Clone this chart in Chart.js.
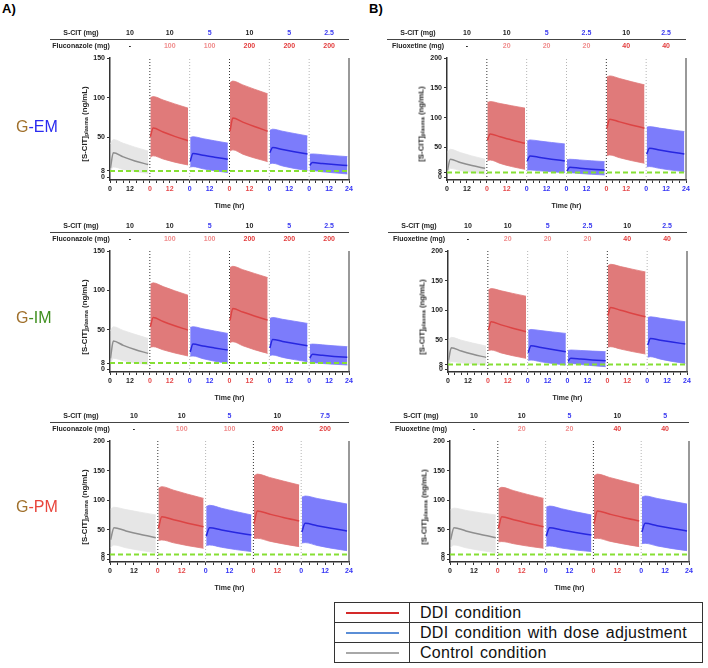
<!DOCTYPE html>
<html><head><meta charset="utf-8">
<script src="https://cdn.jsdelivr.net/npm/chart.js@4.4.1/dist/chart.umd.min.js"></script>
<style>
body{margin:0;width:708px;height:668px;background:#fff;position:relative;overflow:hidden;font-family:Arial,"Liberation Sans",Helvetica,sans-serif;}
canvas{position:absolute;}
.abs{position:absolute;white-space:nowrap;}
.ytitle{position:absolute;white-space:nowrap;font-weight:bold;font-size:7.8px;color:#222;transform:translate(-50%,-50%) rotate(-90deg);}
.ytitle sub{font-size:5.5px;vertical-align:-1px;}
.panel-lab{position:absolute;font-size:16px;transform:translateY(-50%);white-space:nowrap;}
.legend{position:absolute;left:334px;top:602px;border-collapse:collapse;width:369px;}
.legend td{border:1.5px solid #333;height:19px;padding:0;font-size:16px;color:#111;letter-spacing:0.3px;word-spacing:1.5px;}
.legend td.sw{width:74px;text-align:center;}
.legend td.tx{padding-left:10px;}
.legend .ln{display:inline-block;width:53px;height:2px;vertical-align:middle;}
</style></head><body>
<div class="abs" style="left:2px;top:1px;font-weight:bold;font-size:13px;">A)</div>
<div class="abs" style="left:369px;top:1px;font-weight:bold;font-size:13px;">B)</div>
<table class="legend">
<tr><td class="sw"><span class="ln" style="background:#d42a2a"></span></td><td class="tx">DDI condition</td></tr>
<tr><td class="sw"><span class="ln" style="background:#5b8ed6"></span></td><td class="tx">DDI condition with dose adjustment</td></tr>
<tr><td class="sw"><span class="ln" style="background:#a8a8a8"></span></td><td class="tx">Control condition</td></tr>
</table>
<script>
// ---------- DATA ----------
const TIMES = [0.3, 2, 8, 15, 23];          // hours within each 24-h dosing segment
const THRESHOLD = 8;                          // green dashed reference (ng/mL)
const SEG_HOURS = 24;
const yTicks150 = [0, 8, 50, 100, 150];
const yTicks200 = [0, 8, 50, 100, 150, 200];

// A) G-EM, fluconazole
const emA_cond  = ['control','ddi','adj','ddi','adj','adj'];
const emA_scit  = ['10','10','5','10','5','2.5'];
const emA_inhib = ['-','100','100','200','200','200'];
const emA_mean  = [[12,31,25.7,20.6,16],[51,62,56.9,51.5,46],[20,30,27.7,25.3,22.7],[58,74.5,69.4,63.9,58],[31,37.4,34.9,32.2,29.4],[15,18.5,17.3,16,14.7]];
const emA_upper = [[42,47.5,42.8,37.9,33],[100,101.5,97.2,92.3,87],[50,51,48.6,45.9,43],[119,121,116.2,110.8,105],[59,60.5,57.9,55.1,52],[29,29.4,28.4,27.2,26]];
const emA_lower = [[8,13,9.9,7.2,5],[25,27,23,19,15.5],[13,13.4,10.7,8.2,6],[33,34.5,29.1,24.3,19.7],[17,17.6,14.2,11.1,8.4],[8,8.4,6.9,5.6,4.2]];

// B) G-EM, fluoxetine
const emB_cond  = ['control','ddi','adj','adj','ddi','adj'];
const emB_scit  = ['10','10','5','2.5','10','2.5'];
const emB_inhib = ['-','20','20','20','40','40'];
const emB_mean  = [[12,30.3,24.8,19.7,15.1],[62,72.8,67.9,62.5,57],[27,35.9,33.3,30.4,27.5],[11,16.8,15.2,13.7,12.3],[82,97.5,92.9,87.8,82.4],[39,48.7,45.8,42.6,39.2]];
const emB_upper = [[42,47,41.5,35.8,30.3],[125,127,123.7,120,116],[61,62.7,60.7,58.4,56],[29.5,30.3,29.1,27.7,26.3],[168,170,165.6,160.4,155],[84,85,82.5,79.7,76.7]];
const emB_lower = [[8,15,11.3,8.1,5.6],[28,29,23.3,18,13.4],[12,12.3,10.8,9.3,7.8],[7.5,7.8,6.4,5.1,4],[36.5,37.5,32.8,28.1,23.5],[17.5,18,15,12.1,9.5]];

// A) G-IM, fluconazole
const imA_cond  = ['control','ddi','adj','ddi','adj','adj'];
const imA_scit  = ['10','10','5','10','5','2.5'];
const imA_inhib = ['-','100','100','200','200','200'];
const imA_mean  = [[14,35.8,30.4,25.1,20.2],[54,65.7,60.6,55.3,49.7],[22,32,29.6,27.1,24.4],[62,77.1,72.6,67.7,62.4],[27,37.9,35.4,32.7,29.9],[14,19,17.7,16.4,15.2]];
const imA_upper = [[49,54,49.2,44.3,39.2],[108,109.6,104.9,99.6,94],[53,54,51.4,48.6,45.5],[129,130.6,126.3,121.6,116.3],[64.5,65.7,63.4,61,58.2],[31.5,32,31,29.8,28.7]];
const imA_lower = [[8,14,11,8.3,6],[28,28.7,24.7,20.7,16.9],[16.5,16.9,13.5,10.3,7.6],[34,35,29.9,24.9,20.2],[17.5,18.1,15.1,12.3,9.7],[8.2,8.4,7.4,6.4,5.5]];

// B) G-IM, fluoxetine
const imB_cond  = ['control','ddi','adj','adj','ddi','adj'];
const imB_scit  = ['10','10','5','2.5','10','2.5'];
const imB_inhib = ['-','20','20','20','40','40'];
const imB_mean  = [[15,36.5,30.8,25.3,20.2],[66,80.3,75.1,69.5,63.5],[28,39.9,36.7,33.3,29.8],[13.5,18.5,17.3,15.9,14.6],[91,104.5,99.7,94.5,88.8],[41,52.2,49.3,46.1,42.7]];
const imB_upper = [[49,54,49.2,44.3,39.3],[134,136.5,132.7,128.3,123.6],[66,67.4,65.4,63.2,60.7],[32,32.6,31.8,30.8,29.8],[175,177.5,173.7,169.3,164.6],[87.5,88.8,86.3,83.5,80.3]];
const imB_lower = [[8,13,11,9.1,7.3],[32,32.6,27.7,23,18.5],[15,15.7,12.6,9.8,7.3],[9.5,10,8.1,6.2,4.5],[37.5,38.2,34.2,30,25.8],[20.5,21.3,17.2,13.3,10]];

// A) G-PM, fluconazole
const pmA_cond  = ['control','ddi','adj','ddi','adj'];
const pmA_scit  = ['10','10','5','10','7.5'];
const pmA_inhib = ['-','100','100','200','200'];
const pmA_mean  = [[33,53.5,48,42.3,36.6],[52,72,66.7,61.1,55.2],[39,53.5,49.6,45.4,41],[60,81.7,76.5,70.7,64.8],[46,60.8,56.8,52.5,47.9]];
const pmA_upper = [[85,88,84,79.7,75],[120,122.8,116.8,110.1,103],[89,91.3,86.3,80.8,75],[141,144,138.5,132.3,125.6],[105,107,102.9,98.4,93.5]];
const pmA_lower = [[20,24.2,19.5,15.1,11.3],[32,32.7,27.8,23.1,18.6],[23.5,24.2,20.3,16.5,13],[35,35.5,30.7,26,21.4],[27.5,28.2,23.4,18.8,14.6]];

// B) G-PM, fluoxetine
const pmB_cond  = ['control','ddi','adj','ddi','adj'];
const pmB_scit  = ['10','10','5','10','5'];
const pmB_inhib = ['-','20','20','40','40'];
const pmB_mean  = [[33,53.5,48,42.3,36.6],[52,72,66.7,61.1,55.2],[39,53.5,49.6,45.4,41],[60,81.7,76.5,70.7,64.8],[46,60.8,56.8,52.5,47.9]];
const pmB_upper = [[84,86.5,82.7,78.8,75],[119,121.7,116,109.6,103],[88,90,85.5,80.3,75],[141,144,138.5,132.3,125.6],[105,107,102.9,98.4,93.5]];
const pmB_lower = [[20,24.2,19.5,15.1,11.3],[29.5,30,26.3,22.3,18.6],[22,22.5,19,15.8,13],[35,35.5,30.7,26,21.4],[26.5,27,22.6,18.4,14.6]];

// ---------- STYLE / LAYOUT ----------
Chart.defaults.font.family = 'Arial, "Liberation Sans", Helvetica, sans-serif';
const STY = {
  control:{fill:'#e6e6e6', line:'#8e8e8e', tick:'#222'},
  ddi:    {fill:'#e07a7a', line:'#dc4444', tick:'#e5484a'},
  adj:    {fill:'#7c7cfb', line:'#2727e0', tick:'#3434f5'}
};
const HEAD_BLUE = '#3a3af0', HEAD_RED = '#e23c3c', HEAD_PINK = '#f08c8c';

const panels = [
  {cond:emA_cond, scit:emA_scit, inhib:emA_inhib, mean:emA_mean, upper:emA_upper, lower:emA_lower, yTicks:yTicks150, inhibName:'Fluconazole (mg)', box:{l:110,r:349,t:58,b:180}, yMin:-3.4},
  {cond:emB_cond, scit:emB_scit, inhib:emB_inhib, mean:emB_mean, upper:emB_upper, lower:emB_lower, yTicks:yTicks200, inhibName:'Fluoxetine (mg)',  box:{l:447,r:686,t:58,b:180}, yMin:-4.5},
  {cond:imA_cond, scit:imA_scit, inhib:imA_inhib, mean:imA_mean, upper:imA_upper, lower:imA_lower, yTicks:yTicks150, inhibName:'Fluconazole (mg)', box:{l:110,r:349,t:250.7,b:372}, yMin:-3.4},
  {cond:imB_cond, scit:imB_scit, inhib:imB_inhib, mean:imB_mean, upper:imB_upper, lower:imB_lower, yTicks:yTicks200, inhibName:'Fluoxetine (mg)',  box:{l:448,r:687,t:250.7,b:372}, yMin:-4.55},
  {cond:pmA_cond, scit:pmA_scit, inhib:pmA_inhib, mean:pmA_mean, upper:pmA_upper, lower:pmA_lower, yTicks:yTicks200, inhibName:'Fluconazole (mg)', box:{l:110,r:349,t:441,b:562}, yMin:-4.56},
  {cond:pmB_cond, scit:pmB_scit, inhib:pmB_inhib, mean:pmB_mean, upper:pmB_upper, lower:pmB_lower, yTicks:yTicks200, inhibName:'Fluoxetine (mg)',  box:{l:450,r:689,t:441,b:562}, yMin:-4.56}
];
const rowLabels = [
  {y:126.7, parts:[['G','#a0702c'],['-','#2a2af0'],['EM','#2a2af0']]},
  {y:318.3, parts:[['G','#a0702c'],['-','#3f8f1f'],['IM','#3f8f1f']]},
  {y:506.7, parts:[['G','#a0702c'],['-','#e8453c'],['PM','#e8453c']]}
];

const headerPlugin = {
  id:'header',
  afterDraw(chart, args, o) {
    const {ctx, chartArea:a, scales:{x}} = chart;
    ctx.save();
    ctx.font = 'bold 7px Arial, "Liberation Sans", sans-serif';
    ctx.textAlign = 'center'; ctx.textBaseline = 'middle';
    ctx.fillStyle = '#222';
    ctx.fillText('S-CIT (mg)', a.left - 29, a.top - 25);
    ctx.fillText(o.inhibName, a.left - 29, a.top - 11.5);
    ctx.strokeStyle = '#444'; ctx.lineWidth = 1;
    ctx.beginPath(); ctx.moveTo(a.left - 60, a.top - 18.5); ctx.lineTo(a.right, a.top - 18.5); ctx.stroke();
    const maxDose = Math.max(...o.inhib.filter(d => d !== '-').map(Number));
    o.scit.forEach((s, i) => {
      const cx = x.getPixelForValue(i * SEG_HOURS + SEG_HOURS / 2);
      ctx.fillStyle = o.cond[i] === 'adj' ? HEAD_BLUE : '#222';
      ctx.fillText(s, cx, a.top - 25);
      const d = o.inhib[i];
      ctx.fillStyle = d === '-' ? '#222' : (Number(d) === maxDose ? HEAD_RED : HEAD_PINK);
      ctx.fillText(d, cx, a.top - 11.5);
    });
    ctx.strokeStyle = '#555'; ctx.lineWidth = 1.2;
    ctx.beginPath(); ctx.moveTo(a.right, a.top); ctx.lineTo(a.right, a.bottom); ctx.stroke();
    ctx.restore();
  }
};

const padL = 62, padT = 33, padR = 8, padB = 32;

panels.forEach(p => {
  const nSeg = p.cond.length;
  const xMax = nSeg * SEG_HOURS;
  const yMax = p.yTicks[p.yTicks.length - 1];
  const w = Math.round(p.box.r - p.box.l + padL + padR);
  const h = Math.round(p.box.b - p.box.t + padT + padB);
  const c = document.createElement('canvas');
  c.width = w; c.height = h;
  c.style.left = (p.box.l - padL) + 'px'; c.style.top = (p.box.t - padT) + 'px';
  c.style.width = w + 'px'; c.style.height = h + 'px';
  document.body.appendChild(c);

  const ds = [];
  ds.push({data:[{x:0,y:THRESHOLD},{x:xMax,y:THRESHOLD}], borderColor:'#86df34', borderWidth:2, borderDash:[5,3], pointRadius:0, order:0});
  for (let i = 0; i < nSeg; i++) {
    const st = STY[p.cond[i]];
    const off = i * SEG_HOURS;
    const lo = TIMES.map((t, k) => ({x: off + t, y: p.lower[i][k]}));
    const up = TIMES.map((t, k) => ({x: off + t, y: p.upper[i][k]}));
    const mn = TIMES.map((t, k) => ({x: off + t, y: p.mean[i][k]}));
    ds.push({data:lo, borderColor:st.fill, borderWidth:0.8, pointRadius:0, fill:false, cubicInterpolationMode:'monotone', order:3});
    ds.push({data:up, borderColor:st.fill, backgroundColor:st.fill, borderWidth:0.8, pointRadius:0, fill:'-1', cubicInterpolationMode:'monotone', order:3});
    ds.push({data:mn, borderColor:st.line, borderWidth:1.5, pointRadius:0, fill:false, cubicInterpolationMode:'monotone', order:0});
    if (i > 0) {
      ds.push({data:[{x:off,y:p.yMin},{x:off,y:yMax}], borderColor: p.cond[i] === 'ddi' ? '#333' : '#b5b5b5', borderWidth:1, borderDash:[1,2], pointRadius:0, order:1});
    }
  }
  const segOf = v => Math.min(Math.floor(v / SEG_HOURS), nSeg - 1);

  new Chart(c, {
    type:'line',
    data:{datasets:ds},
    plugins:[headerPlugin],
    options:{
      responsive:false, animation:false, devicePixelRatio:1,
      layout:{padding:{top:padT, right:padR, left:0, bottom:0}},
      plugins:{legend:{display:false}, tooltip:{enabled:false},
        header:{scit:p.scit, inhib:p.inhib, cond:p.cond, inhibName:p.inhibName}},
      scales:{
        x:{type:'linear', min:0, max:xMax,
          afterFit: s => { s.height = padB; },
          afterBuildTicks: s => { const t = []; for (let v = 0; v <= xMax; v += 4) t.push({value:v}); s.ticks = t; },
          ticks:{autoSkip:false, maxRotation:0, minRotation:0, padding:2,
            font:{size:7, weight:'bold'},
            color: ctx => STY[p.cond[segOf(ctx.tick.value)]].tick,
            callback: v => (v % 12 !== 0) ? '' : (v === xMax ? '24' : String(v % SEG_HOURS))},
          grid:{display:true, drawOnChartArea:false, drawTicks:true, tickLength:3, color:'#333', tickWidth:1},
          border:{display:true, color:'#333', width:1.5},
          title:{display:true, text:'Time (hr)', font:{size:7, weight:'bold'}, color:'#222', padding:{top:0, bottom:2}}
        },
        y:{type:'linear', min:p.yMin, max:yMax,
          afterFit: s => { s.width = padL; },
          afterBuildTicks: s => { s.ticks = p.yTicks.map(v => ({value:v})); },
          ticks:{autoSkip:false, padding:2, font:{size:7, weight:'bold'}, color:'#222'},
          grid:{display:true, drawOnChartArea:false, drawTicks:true, tickLength:3, color:'#333', tickWidth:1},
          border:{display:true, color:'#333', width:1.5}
        }
      }
    }
  });

  const yt = document.createElement('div');
  yt.className = 'ytitle';
  yt.style.left = (p.box.l - 26.5) + 'px';
  yt.style.top = (p.box.t + 66) + 'px';
  yt.innerHTML = '[S-CIT]<sub>plasma</sub> (ng/mL)';
  document.body.appendChild(yt);
});

rowLabels.forEach(r => {
  const d = document.createElement('div');
  d.className = 'panel-lab';
  d.style.left = '16px'; d.style.top = r.y + 'px';
  d.innerHTML = r.parts.map(([t, col]) => '<span style="color:' + col + '">' + t + '</span>').join('');
  document.body.appendChild(d);
});
</script>
</body></html>
